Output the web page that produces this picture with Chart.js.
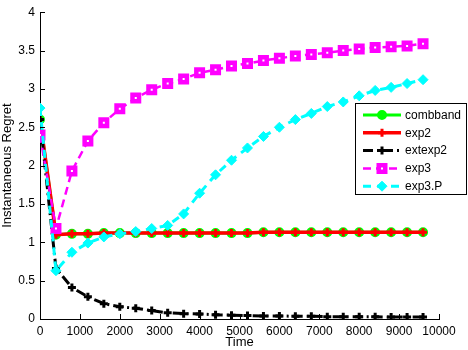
<!DOCTYPE html>
<html>
<head>
<meta charset="utf-8">
<script src="https://cdn.jsdelivr.net/npm/chart.js@4"></script>
<style>
  body { margin: 0; background: #fff; }
  canvas { display: block; }
</style>
</head>
<body>
<canvas id="chart" width="468" height="350"></canvas>
<script>
const times = [0, 400, 800, 1200, 1600, 2000, 2400, 2800, 3200, 3600, 4000, 4400, 4800,
  5200, 5600, 6000, 6400, 6800, 7200, 7600, 8000, 8400, 8800, 9200, 9600];
const combband = [2.6, 1.1, 1.11, 1.11, 1.12, 1.12, 1.12, 1.12, 1.12, 1.12, 1.12, 1.12, 1.12,
  1.12, 1.13, 1.13, 1.13, 1.13, 1.13, 1.13, 1.13, 1.13, 1.13, 1.13, 1.13];
const exp2 = [2.6, 1.1, 1.11, 1.11, 1.12, 1.12, 1.12, 1.12, 1.12, 1.12, 1.12, 1.12, 1.12,
  1.12, 1.13, 1.13, 1.13, 1.13, 1.13, 1.13, 1.13, 1.13, 1.13, 1.13, 1.13];
const extexp2 = [2.6, 0.66, 0.41, 0.29, 0.2, 0.16, 0.14, 0.11, 0.08, 0.07, 0.065, 0.055, 0.05,
  0.045, 0.04, 0.04, 0.035, 0.035, 0.03, 0.03, 0.03, 0.03, 0.025, 0.025, 0.025];
const exp3 = [2.4, 1.18, 1.93, 2.32, 2.56, 2.74, 2.88, 2.99, 3.07, 3.13, 3.21, 3.25, 3.3,
  3.33, 3.37, 3.4, 3.43, 3.45, 3.47, 3.5, 3.52, 3.54, 3.55, 3.56, 3.59];
const exp3P = [2.75, 0.63, 0.87, 0.99, 1.07, 1.11, 1.14, 1.18, 1.22, 1.37, 1.64, 1.88, 2.07,
  2.23, 2.38, 2.5, 2.6, 2.68, 2.77, 2.83, 2.91, 2.98, 3.02, 3.07, 3.12];
const seriesNames = ["combband", "exp2", "extexp2", "exp3", "exp3.P"];
const xTicks = [0, 1000, 2000, 3000, 4000, 5000, 6000, 7000, 8000, 9000, 10000];
const yTicks = [0, 0.5, 1, 1.5, 2, 2.5, 3, 3.5, 4];

const pts = arr => arr.map((v, i) => ({ x: times[i], y: v }));
const font = { family: "'Liberation Sans', Arial, sans-serif", size: 12 };

const datasets = [
  { label: seriesNames[0], data: pts(combband), order: 5,
    borderColor: "#00ff00", borderWidth: 3,
    pointStyle: "circle", pointRadius: 4, pointBorderWidth: 2,
    pointBackgroundColor: "#00ff00", pointBorderColor: "#00ff00" },
  { label: seriesNames[1], data: pts(exp2), order: 4,
    borderColor: "#ff0000", borderWidth: 3.5,
    pointStyle: "cross", pointRadius: 4, pointBorderWidth: 3,
    pointBorderColor: "#ff0000" },
  { label: seriesNames[2], data: pts(extexp2), order: 3,
    borderColor: "#000000", borderWidth: 3, borderDash: [10, 4, 2, 4],
    pointStyle: "cross", pointRadius: 4, pointBorderWidth: 3,
    pointBorderColor: "#000000" },
  { label: seriesNames[3], data: pts(exp3), order: 2,
    borderColor: "#ff00ff", borderWidth: 2.5, borderDash: [8, 5],
    pointStyle: "rect", pointRadius: 4.6, pointBorderWidth: 4.5,
    pointBackgroundColor: "#ffffff", pointBorderColor: "#ff00ff" },
  { label: seriesNames[4], data: pts(exp3P), order: 1,
    borderColor: "#00ffff", borderWidth: 3, borderDash: [8, 6],
    pointStyle: "rectRot", pointRadius: 5, pointBorderWidth: 1,
    pointBackgroundColor: "#00ffff", pointBorderColor: "#00ffff" }
];

// matlab style: ticks pointing into the plot, legend box in the upper right
const matlabAxes = {
  id: "matlabAxes",
  afterDraw(chart) {
    const ctx = chart.ctx;
    const { x, y } = chart.scales;
    const area = chart.chartArea;
    ctx.save();
    ctx.strokeStyle = "#000";
    ctx.lineWidth = 1;
    ctx.beginPath();
    yTicks.forEach(v => {
      const py = Math.round(y.getPixelForValue(v)) + 0.5;
      ctx.moveTo(area.left, py);
      ctx.lineTo(area.left + 5, py);
    });
    xTicks.forEach(v => {
      const px = Math.round(x.getPixelForValue(v)) + 0.5;
      ctx.moveTo(px, area.bottom);
      ctx.lineTo(px, area.bottom - 5);
    });
    ctx.stroke();

    // legend
    const bx = 355.5, by = 103.5, bw = 111, bh = 91;
    ctx.fillStyle = "#fff";
    ctx.fillRect(bx, by, bw, bh);
    ctx.strokeRect(bx, by, bw, bh);
    ctx.font = "12px " + font.family;
    ctx.textBaseline = "middle";
    chart.data.datasets.forEach((ds, i) => {
      const ly = 115 + i * 17.8;
      ctx.save();
      ctx.strokeStyle = ds.borderColor;
      ctx.lineWidth = ds.borderWidth;
      ctx.setLineDash(ds.borderDash || []);
      ctx.beginPath();
      ctx.moveTo(363, ly);
      ctx.lineTo(401, ly);
      ctx.stroke();
      ctx.setLineDash([]);
      ctx.fillStyle = ds.pointBackgroundColor || ds.pointBorderColor;
      ctx.strokeStyle = ds.pointBorderColor;
      ctx.lineWidth = ds.pointBorderWidth;
      Chart.helpers.drawPoint(ctx, {
        pointStyle: ds.pointStyle, radius: ds.pointRadius,
        rotation: 0, borderWidth: ds.pointBorderWidth
      }, 382, ly);
      ctx.restore();
      ctx.fillStyle = "#000";
      ctx.fillText(ds.label, 405, ly + 0.5);
    });
    ctx.restore();
  }
};

new Chart(document.getElementById("chart"), {
  type: "line",
  data: { datasets: datasets },
  plugins: [matlabAxes],
  options: {
    responsive: false,
    animation: false,
    devicePixelRatio: 1,
    layout: { padding: { top: 5, right: 29, left: 0, bottom: 0 } },
    elements: { line: { tension: 0, fill: false } },
    plugins: { legend: { display: false }, tooltip: { enabled: false } },
    scales: {
      x: {
        type: "linear", min: 0, max: 10000,
        afterBuildTicks: s => { s.ticks = xTicks.map(v => ({ value: v })); },
        afterFit: s => { s.height = 31; },
        grid: { display: false, drawTicks: false },
        border: { display: true, color: "#000", width: 1 },
        ticks: { color: "#000", font: font, padding: 5, maxRotation: 0, autoSkip: false,
          callback: v => String(v) },
        title: { display: true, text: "Time", color: "#000",
          font: { family: font.family, size: 13 }, padding: 0 }
      },
      y: {
        type: "linear", min: 0, max: 4,
        afterBuildTicks: s => { s.ticks = yTicks.map(v => ({ value: v })); },
        afterFit: s => { s.width = 40; },
        grid: { display: false, drawTicks: false },
        border: { display: true, color: "#000", width: 1 },
        ticks: { color: "#000", font: font, padding: 5,
          callback: v => String(v) },
        title: { display: true, text: "Instantaneous Regret", color: "#000",
          font: { family: font.family, size: 13 }, padding: 0 }
      }
    }
  }
});
</script>
</body>
</html>
